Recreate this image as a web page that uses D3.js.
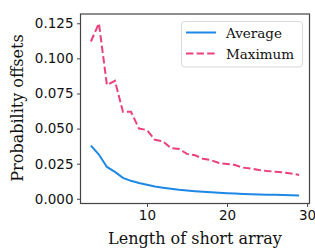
<!DOCTYPE html>
<html>
<head>
<meta charset="utf-8">
<script src="https://cdn.jsdelivr.net/npm/d3@7"></script>
<style>
  body { margin: 0; background: #fff; }
  svg { display: block; }
</style>
</head>
<body>
<div id="chart"></div>
<script>
// values
var lengths = [3, 4, 5, 6, 7, 8, 9, 10, 11, 12, 13, 14, 15, 16, 17, 18, 19, 20, 21, 22, 23, 24, 25, 26, 27, 28, 29];
var averageOffsets = [0.0379, 0.0315, 0.0227, 0.0192, 0.0149, 0.0128, 0.0112, 0.0100, 0.0088, 0.0079, 0.0071, 0.0064,
                      0.0059, 0.0054, 0.0050, 0.0046, 0.0043, 0.0040, 0.0037, 0.0035, 0.0033, 0.0031, 0.0029, 0.0028, 0.0027, 0.0025, 0.0024];
var maximumOffsets = [0.112, 0.125, 0.081, 0.084, 0.062, 0.062, 0.050, 0.049, 0.042, 0.041, 0.036, 0.0355,
                      0.032, 0.031, 0.0285, 0.0275, 0.0255, 0.0248, 0.024, 0.0222, 0.0215, 0.0205, 0.0198, 0.0193, 0.0188, 0.018, 0.017];
var xTicks = [10, 20, 30];
var yTicks = [0, 0.025, 0.05, 0.075, 0.1, 0.125];
var seriesNames = ['Average', 'Maximum'];

var W = 315, H = 252;
var margin = {left: 80.5, top: 14, right: 5.5, bottom: 48.5};

var svg = d3.select('#chart').append('svg')
            .attr('width', W)
            .attr('height', H);

var x = d3.scaleLinear().domain([1.7, 30.3]).range([margin.left, W - margin.right]);
var y = d3.scaleLinear().domain([-0.00335, 0.1316]).range([H - margin.bottom, margin.top]);

var series = [
  {name: seriesNames[0], values: averageOffsets, color: '#1e88e5', dash: null},
  {name: seriesNames[1], values: maximumOffsets, color: '#ec407a', dash: '7.4,3.2'}
];

var line = d3.line()
             .x(function(d){ return x(d[0]); })
             .y(function(d){ return y(d[1]); });

svg.selectAll('.series')
   .data(series)
   .enter().append('path')
   .attr('class', 'series')
   .attr('d', function(s){ return line(lengths.map(function(l, i){ return [l, s.values[i]]; })); })
   .attr('fill', 'none')
   .attr('stroke', function(s){ return s.color; })
   .attr('stroke-width', 2)
   .attr('stroke-dasharray', function(s){ return s.dash; });

// axes
var xAxis = svg.append('g')
               .attr('transform', 'translate(0,' + (H - margin.bottom) + ')')
               .call(d3.axisBottom(x).tickValues(xTicks).tickSizeOuter(0).tickSize(3.5).tickPadding(3));
var yAxis = svg.append('g')
               .attr('transform', 'translate(' + margin.left + ',0)')
               .call(d3.axisLeft(y).tickValues(yTicks).tickFormat(d3.format('.3f')).tickSizeOuter(0).tickSize(3.5).tickPadding(3.5));

[xAxis, yAxis].forEach(function(g){
  g.select('.domain').remove();
  g.selectAll('.tick line').attr('stroke', '#444').attr('stroke-width', 1);
  g.selectAll('.tick text')
   .attr('fill', '#111')
   .style('font-family', '"DejaVu Sans", sans-serif')
   .style('font-size', '13.5px');
});

// frame
svg.append('rect')
   .attr('x', margin.left)
   .attr('y', margin.top)
   .attr('width', W - margin.right - margin.left)
   .attr('height', H - margin.bottom - margin.top)
   .attr('fill', 'none')
   .attr('stroke', '#444')
   .attr('stroke-width', 1.2);

// axis labels
svg.append('text')
   .attr('x', (margin.left + W - margin.right) / 2)
   .attr('y', 244)
   .attr('text-anchor', 'middle')
   .attr('fill', '#111')
   .style('font-family', '"DejaVu Serif", serif')
   .style('font-size', '16px')
   .text('Length of short array');

svg.append('text')
   .attr('transform', 'translate(23,108) rotate(-90)')
   .attr('text-anchor', 'middle')
   .attr('fill', '#111')
   .style('font-family', '"DejaVu Serif", serif')
   .style('font-size', '16px')
   .text('Probability offsets');

// legend
var legend = svg.append('g').attr('transform', 'translate(181,21)');
legend.append('rect')
      .attr('x', 0.5).attr('y', 0.5)
      .attr('width', 121).attr('height', 45.5)
      .attr('rx', 3)
      .attr('fill', '#fff')
      .attr('fill-opacity', 0.8)
      .attr('stroke', '#d9d9d9')
      .attr('stroke-width', 1);

var items = legend.selectAll('.item')
                  .data(series)
                  .enter().append('g')
                  .attr('class', 'item')
                  .attr('transform', function(d, i){ return 'translate(0,' + (11.5 + i * 21) + ')'; });
items.append('line')
     .attr('x1', 5).attr('x2', 35)
     .attr('stroke', function(d){ return d.color; })
     .attr('stroke-width', 2)
     .attr('stroke-dasharray', function(d){ return d.dash; });
items.append('text')
     .attr('x', 45)
     .attr('y', 5)
     .attr('fill', '#111')
     .style('font-family', '"DejaVu Serif", serif')
     .style('font-size', '13.5px')
     .text(function(d){ return d.name; });
</script>
</body>
</html>
